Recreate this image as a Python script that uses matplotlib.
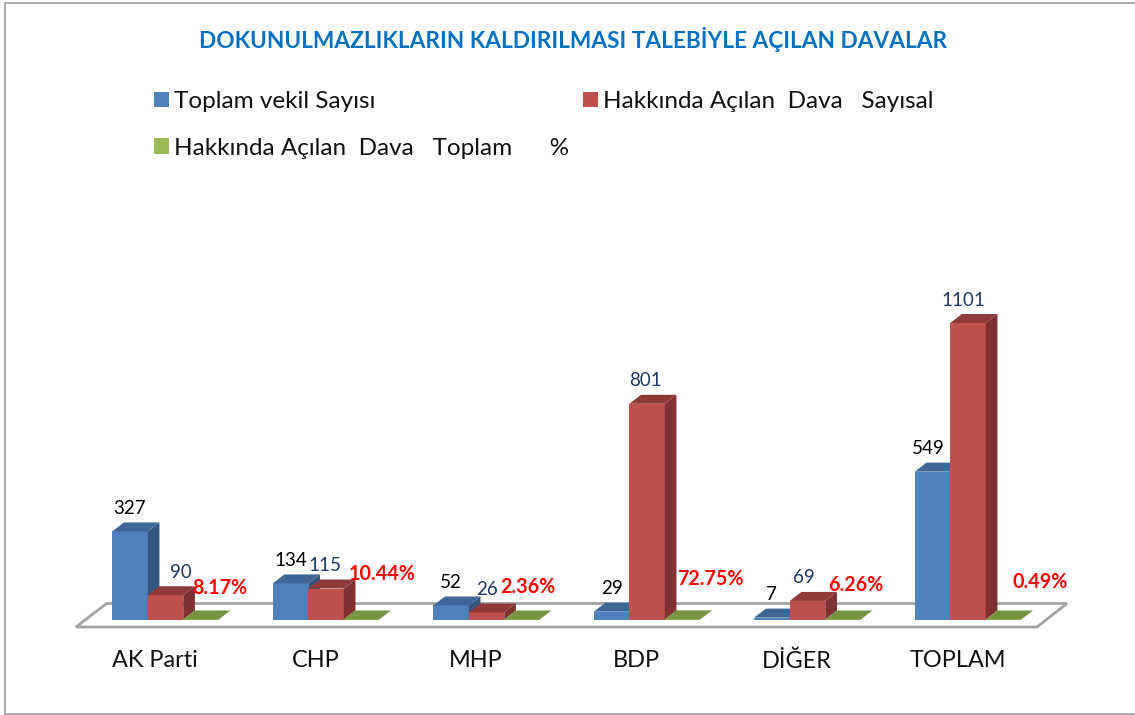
import matplotlib
matplotlib.use("Agg")
import matplotlib.pyplot as plt
from matplotlib.patches import Patch, Polygon
from matplotlib.lines import Line2D

plt.rcParams['font.family'] = ['Lato', 'DejaVu Sans']

categories = ["AK Parti", "CHP", "MHP", "BDP", "DİĞER", "TOPLAM"]
vekil = [327, 134, 52, 29, 7, 549]
dava = [90, 115, 26, 801, 69, 1101]
yuzde = [8.17, 10.44, 2.36, 72.75, 6.26, 0.49]
series_names = ["Toplam vekil Sayısı", "Hakkında Açılan  Dava   Sayısal",
                "Hakkında Açılan  Dava   Toplam      %"]
title = "DOKUNULMAZLIKLARIN KALDIRILMASI TALEBİYLE AÇILAN DAVALAR"

W, H = 1135, 715
BASE = 619.5          # pixel row of value 0
PX_PER_UNIT = 0.2693  # pixels per value unit
STEP = 160.5          # pixels between groups
C0 = 165.5            # pixel column of first group centre
BAR = 35.5 / STEP
DX, DY = 11.7 / STEP, 9.0 / PX_PER_UNIT

fig = plt.figure(figsize=(W / 100, H / 100), dpi=100, facecolor="white")
ax = fig.add_axes([0, 1 - BASE / H, 1, BASE / H])
ax.set_xlim(-C0 / STEP, (W - C0) / STEP)
ax.set_ylim(0, BASE / PX_PER_UNIT)
ax.patch.set_alpha(0)
for s in ax.spines.values():
    s.set_visible(False)
ax.set_yticks([])
ax.set_xticks([i - 0.064 for i in range(len(categories))])
ax.set_xticklabels(categories, fontsize=16.9, color="#111111")
ax.tick_params(axis="x", length=0, pad=22)

def px(x, y):
    return (x - C0) / STEP, (BASE - y) / PX_PER_UNIT

# floor
ax.add_patch(Polygon([px(76, 627), px(106.5, 603.5), px(1067, 603.5), px(1037, 627)],
                     closed=True, fc="white", ec="#A3A3A3", lw=2, clip_on=False, zorder=1))

def bar3d(x, v, front, side, top, z):
    ax.bar(x, v, width=BAR, color=front, align="edge", zorder=z, linewidth=0)
    ax.add_patch(Polygon([(x + BAR, 0), (x + BAR + DX, DY), (x + BAR + DX, v + DY), (x + BAR, v)],
                         closed=True, fc=side, ec="none", zorder=z))
    ax.add_patch(Polygon([(x, v), (x + DX, v + DY), (x + BAR + DX, v + DY), (x + BAR, v)],
                         closed=True, fc=top, ec="none", zorder=z))

z = 2
for i in range(len(categories)):
    left = i - 1.5 * BAR
    bar3d(left, vekil[i], "#4F81BD", "#34557F", "#3E6797", z)
    bar3d(left + BAR, dava[i], "#C0504D", "#7E3130", "#8F3A38", z + 1)
    bar3d(left + 2 * BAR, yuzde[i] / 100, "#9BBB59", "#6F8A3A", "#779440", z + 2)
    z += 3

# label placement: pixel nudges relative to bar centre, top
blue_dx = [0, 0, 0, 0, -1, -4]
red_dx = [15, -1, 0, -2, -4, -5]
pct_x = [220, 382, 528, 710, 856, 1040]
pct_y = [588, 574, 587, 579, 585, 582]

for i in range(len(categories)):
    left = i - 1.5 * BAR
    ax.annotate(str(vekil[i]), (left + BAR / 2, vekil[i]), xytext=(blue_dx[i] * .72, 23 * .72),
                textcoords="offset points", ha="center", va="center", fontsize=13.5,
                color="black", zorder=50, annotation_clip=False)
    ax.annotate(str(dava[i]), (left + 1.5 * BAR, dava[i]), xytext=(red_dx[i] * .72, 23 * .72),
                textcoords="offset points", ha="center", va="center", fontsize=13.5,
                color="#1F3864", zorder=50, annotation_clip=False)
    ax.annotate(f"{yuzde[i]:.2f}%", (left + 2.5 * BAR, yuzde[i] / 100),
                xytext=((pct_x[i] - (C0 + STEP * (left + 2.5 * BAR))) * .72, (BASE - pct_y[i]) * .72),
                textcoords="offset points", ha="center", va="center", fontsize=14.2,
                fontweight="bold", color="#FF0000", zorder=50, annotation_clip=False)

fig.text(573 / W, 1 - 40 / H, title, ha="center", va="center", fontsize=16.3,
         fontweight="bold", color="#0070C0")

handles = [Patch(fc="#4F81BD"), Patch(fc="#9BBB59"), Patch(fc="#C0504D")]
labels = [series_names[0], series_names[2], series_names[1]]
fig.legend(handles, labels, ncol=2, frameon=False, fontsize=17.5, loc="upper left",
           bbox_to_anchor=(154 / W, 1 - 91 / H), borderpad=0, borderaxespad=0,
           handlelength=0.62, handleheight=0.62, handletextpad=0.22, columnspacing=0.55,
           labelspacing=1.05, labelcolor="#111111")

# chart frame
for xs, ys in [([5, 5], [3, 714]), ([5, 1135], [3, 3]), ([5, 1135], [714, 714])]:
    fig.add_artist(Line2D([x / W for x in xs], [1 - y / H for y in ys], color="#A6A6A6", lw=1.3))

fig.savefig("out.png", dpi=100, facecolor="white")
